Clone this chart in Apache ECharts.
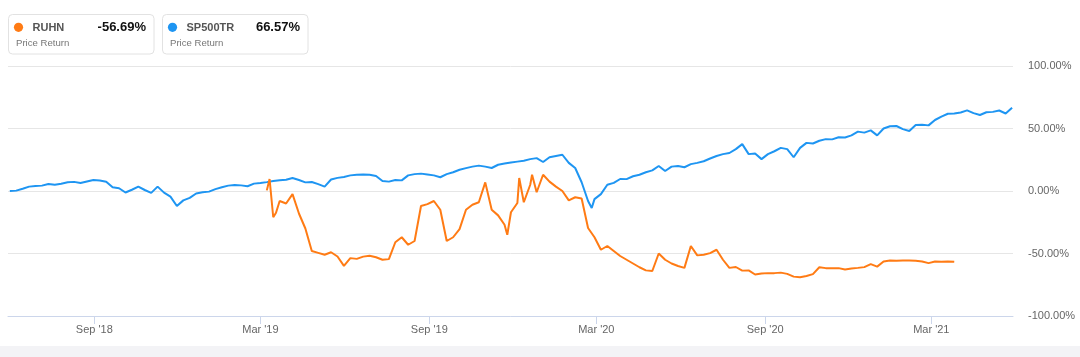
<!DOCTYPE html>
<html>
<head>
<meta charset="utf-8">
<script src="https://cdn.jsdelivr.net/npm/echarts@6/dist/echarts.min.js"></script>
<style>
html,body{margin:0;padding:0;background:#fff;}
#chart{width:1080px;height:357px;}
</style>
</head>
<body>
<div id="chart"></div>
<script>
const sp500Dates = [
'2018-06-01','2018-06-08','2018-06-15','2018-06-22','2018-06-29','2018-07-06','2018-07-13','2018-07-20','2018-07-27',
'2018-08-03','2018-08-10','2018-08-17','2018-08-24','2018-08-31','2018-09-07','2018-09-14','2018-09-21','2018-09-28',
'2018-10-05','2018-10-12','2018-10-19','2018-10-26','2018-11-02','2018-11-09','2018-11-16','2018-11-23','2018-11-30',
'2018-12-07','2018-12-14','2018-12-21','2018-12-28',
'2019-01-04','2019-01-11','2019-01-18','2019-01-25','2019-02-01','2019-02-08','2019-02-15','2019-02-22','2019-03-01',
'2019-03-08','2019-03-15','2019-03-22','2019-03-29','2019-04-05','2019-04-12','2019-04-19','2019-04-26','2019-05-03',
'2019-05-10','2019-05-17','2019-05-24','2019-05-31','2019-06-07','2019-06-14','2019-06-21','2019-06-28','2019-07-05',
'2019-07-12','2019-07-19','2019-07-26','2019-08-02','2019-08-09','2019-08-16','2019-08-23','2019-08-30','2019-09-06',
'2019-09-13','2019-09-20','2019-09-27','2019-10-04','2019-10-11','2019-10-18','2019-10-25','2019-11-01','2019-11-08',
'2019-11-15','2019-11-22','2019-11-29','2019-12-06','2019-12-13','2019-12-20','2019-12-27',
'2020-01-03','2020-01-10','2020-01-17','2020-01-24','2020-01-31','2020-02-07','2020-02-14','2020-02-21','2020-02-25',
'2020-02-28','2020-03-06','2020-03-13','2020-03-20','2020-03-27','2020-04-03','2020-04-10','2020-04-17','2020-04-24',
'2020-05-01','2020-05-08','2020-05-15','2020-05-22','2020-05-29','2020-06-05','2020-06-12','2020-06-19','2020-06-26',
'2020-07-03','2020-07-10','2020-07-17','2020-07-24','2020-07-31','2020-08-07','2020-08-14','2020-08-21','2020-08-28',
'2020-09-04','2020-09-11','2020-09-18','2020-09-25','2020-10-02','2020-10-09','2020-10-16','2020-10-23','2020-10-30',
'2020-11-06','2020-11-13','2020-11-20','2020-11-27','2020-12-04','2020-12-11','2020-12-18','2020-12-25',
'2021-01-01','2021-01-08','2021-01-15','2021-01-22','2021-01-29','2021-02-05','2021-02-12','2021-02-19','2021-02-26',
'2021-03-05','2021-03-12','2021-03-19','2021-03-26','2021-04-02','2021-04-09','2021-04-16','2021-04-23','2021-04-30',
'2021-05-07','2021-05-14','2021-05-21','2021-05-28'
];
const sp500Values = [
0,0.3,1.8,3.5,4.0,4.3,5.6,5.0,5.8,
7.0,7.3,6.4,7.6,8.8,8.4,7.4,3.0,2.2,
-1.2,1.0,3.5,0.8,-1.5,3.5,-1.3,-4.5,-12.0,
-7.5,-5.5,-2.0,-1.0,
-0.5,1.5,3.0,4.3,4.8,4.5,3.8,5.9,6.4,
7.1,8.0,8.6,9.0,10.4,8.8,6.9,7.2,5.5,
3.5,9.2,10.5,11.2,12.5,13.0,13.2,13.0,12.0,
8.0,7.5,8.8,8.5,12.5,13.5,13.9,13.2,12.5,
11.0,13.5,15.0,17.0,18.3,19.5,20.3,19.5,18.4,
21.0,22.0,22.8,23.5,24.2,25.5,26.3,
23.2,27.0,28.0,29.0,22.5,18.4,7.0,-8.0,-13.6,
-6.5,-2.5,5.0,6.5,9.6,9.5,11.8,13.0,15.0,
16.5,20.0,16.0,19.5,20.0,19.0,21.5,22.5,23.8,
26.0,28.0,29.5,30.4,33.5,37.5,29.5,30.0,25.5,
29.5,31.8,34.5,33.5,27.0,34.5,38.5,38.0,40.2,
41.5,41.3,43.0,42.8,44.5,47.5,46.7,48.5,
44.5,50.0,51.8,52.0,49.5,48.0,52.8,53.0,52.5,
56.8,59.5,61.8,62.0,62.8,64.5,62.3,60.8,63.0,
63.3,64.4,62.0,66.57
];
const ruhnDates = [
'2019-03-08','2019-03-11','2019-03-15','2019-03-18','2019-03-22','2019-03-29','2019-04-05','2019-04-12','2019-04-19',
'2019-04-26','2019-05-03','2019-05-10','2019-05-17','2019-05-24','2019-05-31','2019-06-07','2019-06-14','2019-06-21',
'2019-06-28','2019-07-05','2019-07-12','2019-07-19','2019-07-26','2019-08-02','2019-08-09','2019-08-16','2019-08-23',
'2019-08-30','2019-09-06','2019-09-13','2019-09-20','2019-09-27','2019-10-04','2019-10-11','2019-10-18','2019-10-25',
'2019-11-01','2019-11-08','2019-11-15','2019-11-22','2019-11-25','2019-11-29','2019-12-06','2019-12-08','2019-12-13',
'2019-12-20','2019-12-22','2019-12-27',
'2020-01-03','2020-01-10','2020-01-17','2020-01-24','2020-01-31','2020-02-07','2020-02-14','2020-02-21','2020-02-28',
'2020-03-06','2020-03-13','2020-03-20','2020-03-27','2020-04-03','2020-04-10','2020-04-17','2020-04-24','2020-05-01',
'2020-05-08','2020-05-15','2020-05-22','2020-05-29','2020-06-05','2020-06-12','2020-06-19','2020-06-26','2020-07-03',
'2020-07-10','2020-07-17','2020-07-24','2020-07-31','2020-08-07','2020-08-14','2020-08-21','2020-08-28','2020-09-04',
'2020-09-11','2020-09-18','2020-09-25','2020-10-02','2020-10-09','2020-10-16','2020-10-23','2020-10-30','2020-11-06',
'2020-11-13','2020-11-20','2020-11-27','2020-12-04','2020-12-11','2020-12-18','2020-12-25',
'2021-01-01','2021-01-08','2021-01-15','2021-01-22','2021-01-29','2021-02-05','2021-02-12','2021-02-19','2021-02-26',
'2021-03-05','2021-03-12','2021-03-19','2021-03-26'
];
const ruhnValues = [
0.5,9.6,-21,-17.4,-8,-10,-2.5,-18,-30,
-48,-49.5,-51,-49,-52.4,-59.9,-53.7,-54.3,-52.5,
-51.8,-53,-55,-54.5,-41,-37,-43,-40,-12,
-10.5,-8,-15,-40,-37,-30.5,-15,-11,-9,
6.9,-15,-19.5,-27,-35,-17,-9.6,10.4,-9,
5,13,-1,
13,7.5,3.5,0,-7.5,-5,-6,-29.6,-37,
-47,-44,-48,-52,-55,-58,-61,-63.5,-64,
-50,-55,-58,-60,-61.5,-44,-51.5,-51,-49.7,
-47,-55,-61.5,-60.8,-63.7,-63.5,-66.8,-66,-65.7,
-65.7,-65.3,-66.3,-68.5,-69,-68,-66.5,-61,-61.7,
-61.7,-61.7,-62.8,-62,-61.5,-60.9,-58.5,
-60.5,-56.4,-55.6,-55.8,-55.6,-55.6,-55.8,-56.4,-57.7,
-56.4,-56.6,-56.4,-56.69
];
const xRange = ['2018-05-30', '2021-05-29'];
const xTickDates = ['2018-09-01','2019-03-01','2019-09-01','2020-03-01','2020-09-01','2021-03-01'];
const yTicks = [-100, -50, 0, 50, 100];
const legendItems = [
  {name: 'RUHN', value: '-56.69%', sub: 'Price Return', color: '#ff7b14'},
  {name: 'SP500TR', value: '66.57%', sub: 'Price Return', color: '#1e95f2'}
];

const FONT = '"Liberation Sans", Arial, Helvetica, sans-serif';
const MONTHS = ['Jan','Feb','Mar','Apr','May','Jun','Jul','Aug','Sep','Oct','Nov','Dec'];
function ts(s){ const p = s.split('-').map(Number); return Date.UTC(p[0], p[1]-1, p[2]); }
function zip(d, v){ return d.map((x,i)=>[ts(x), v[i]]); }

const graphics = [];
legendItems.forEach((it, k) => {
  const x0 = 8.5 + k * 154;
  graphics.push({type:'rect', shape:{x:x0, y:14.5, width:145.5, height:39.5, r:4},
    style:{fill:'#fff', stroke:'#e2e2e2', lineWidth:1}});
  graphics.push({type:'circle', shape:{cx:x0+10, cy:27.3, r:4.6}, style:{fill:it.color}});
  graphics.push({type:'text', x:x0+24, y:27.5, style:{text:it.name, fontFamily:FONT, fontSize:11, fontWeight:'bold', fill:'#555', verticalAlign:'middle'}});
  graphics.push({type:'text', x:x0+137.5, y:27.5, style:{text:it.value, fontFamily:FONT, fontSize:13, fontWeight:'bold', fill:'#111', align:'right', verticalAlign:'middle'}});
  graphics.push({type:'text', x:x0+7.5, y:43, style:{text:it.sub, fontFamily:FONT, fontSize:9.6, fill:'#777', verticalAlign:'middle'}});
});
graphics.push({type:'rect', shape:{x:0, y:346, width:1080, height:11}, style:{fill:'#f3f3f6'}, silent:true});

const chart = echarts.init(document.getElementById('chart'), null, {renderer:'canvas'});
chart.setOption({
  animation: false,
  backgroundColor: '#fff',
  grid: {left: 8, right: 67, top: 66, bottom: 41, containLabel: false},
  xAxis: {
    type: 'value',
    min: ts(xRange[0]), max: ts(xRange[1]),
    axisLine: {show: true, onZero: false, lineStyle: {color: '#ccd6eb', width: 1}},
    axisTick: {show: true, length: 8, lineStyle: {color: '#ccd6eb'}, customValues: xTickDates.map(ts)},
    axisLabel: {
      customValues: xTickDates.map(ts), margin: 8, color: '#666', fontSize: 11, fontFamily: FONT,
      formatter: function(v){ const d = new Date(v); return MONTHS[d.getUTCMonth()] + " '" + String(d.getUTCFullYear()).slice(2); }
    },
    splitLine: {show: false}
  },
  yAxis: {
    type: 'value', position: 'right',
    min: yTicks[0], max: yTicks[yTicks.length-1], interval: 50,
    axisLine: {show: false}, axisTick: {show: false},
    axisLabel: {margin: 15, color: '#666', fontSize: 11, fontFamily: FONT,
      formatter: v => v.toFixed(2) + '%'},
    splitLine: {show: true, lineStyle: {color: '#e6e6e6', width: 1}}
  },
  series: [
    {name: 'SP500TR', type: 'line', data: zip(sp500Dates, sp500Values), showSymbol: false,
     lineStyle: {color: legendItems[1].color, width: 2}, itemStyle: {color: legendItems[1].color}},
    {name: 'RUHN', type: 'line', data: zip(ruhnDates, ruhnValues), showSymbol: false,
     lineStyle: {color: legendItems[0].color, width: 2}, itemStyle: {color: legendItems[0].color}}
  ],
  graphic: graphics
});
</script>
</body>
</html>
